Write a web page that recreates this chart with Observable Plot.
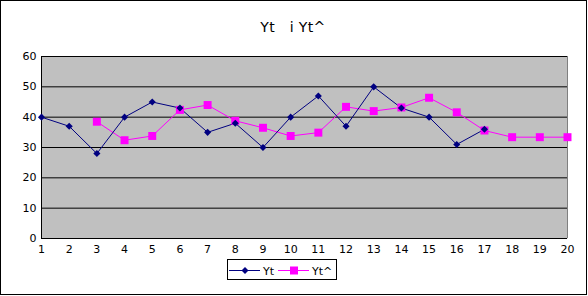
<!DOCTYPE html>
<html>
<head>
<meta charset="utf-8">
<script src="https://cdn.jsdelivr.net/npm/d3@7"></script>
<script src="https://cdn.jsdelivr.net/npm/@observablehq/plot@0.6"></script>
<style>
  html, body { margin: 0; padding: 0; background: #fff; }
  #wrap { position: relative; width: 588px; height: 296px; font-family: "DejaVu Sans", sans-serif; }
  #wrap > svg { position: absolute; left: 0; top: 0; }
  #border { position: absolute; left: 0; top: 0; width: 587px; height: 295px; box-sizing: border-box; border: 1px solid #000; pointer-events: none; }
</style>
</head>
<body>
<div id="wrap"><div id="border"></div></div>
<script>
const title = "Yt   i Yt^";
const periods = d3.range(1, 21);
const yTicks = [0, 10, 20, 30, 40, 50, 60];
const ytPeriods = [1, 2, 3, 4, 5, 6, 7, 8, 9, 10, 11, 12, 13, 14, 15, 16, 17];
const ytValues = [40, 37, 28, 40, 45, 43, 35, 38, 30, 40, 47, 37, 50, 43, 40, 31, 36];
const yhatPeriods = [3, 4, 5, 6, 7, 8, 9, 10, 11, 12, 13, 14, 15, 16, 17, 18, 19, 20];
const yhatValues = [38.5, 32.4, 33.8, 42.4, 44.0, 38.8, 36.5, 33.8, 34.9, 43.4, 42.0, 43.2, 46.4, 41.6, 35.6, 33.4, 33.4, 33.4];
const seriesNames = ["Yt", "Yt^"];
const colors = ["#000080", "#ff00ff"];

const yt = ytPeriods.map((p, i) => ({x: p, y: ytValues[i]}));
const yhat = yhatPeriods.map((p, i) => ({x: p, y: yhatValues[i]}));

const chart = Plot.plot({
  width: 588,
  height: 296,
  marginLeft: 41,
  marginRight: 21,
  marginTop: 56,
  marginBottom: 58,
  style: {fontFamily: "DejaVu Sans, sans-serif", fontSize: "11px", color: "#000", background: "transparent"},
  x: {type: "linear", domain: [1, 20]},
  y: {domain: [0, 60]},
  marks: [
    Plot.frame({fill: "#c0c0c0", stroke: null}),
    Plot.ruleY(yTicks, {stroke: "#000", strokeWidth: 1}),
    Plot.ruleX([20], {stroke: "#808080", strokeWidth: 1}),
    Plot.ruleX([1], {stroke: "#000", strokeWidth: 1}),
    Plot.axisY(yTicks, {tickSize: 0, tickPadding: 5, fontSize: 11, label: null}),
    Plot.axisX(periods, {tickSize: 0, tickPadding: 7, fontSize: 11, label: null, tickFormat: d => String(d)}),
    Plot.line(yhat, {x: "x", y: "y", stroke: colors[1], strokeWidth: 1}),
    Plot.line(yt, {x: "x", y: "y", stroke: colors[0], strokeWidth: 1}),
    Plot.dot(yhat, {x: "x", y: "y", symbol: "square", r: 4.5, fill: colors[1], stroke: null}),
    Plot.dot(yt, {x: "x", y: "y", symbol: "diamond2", r: 3.2, fill: colors[0], stroke: null})
  ]
});
const wrap = document.getElementById("wrap");
wrap.insertBefore(chart, wrap.firstChild);

// Title and legend overlay
const ov = d3.select(wrap).append("svg")
  .attr("width", 588).attr("height", 296)
  .style("position", "absolute").style("left", 0).style("top", 0)
  .style("font-family", "DejaVu Sans, sans-serif");
ov.append("text").attr("x", 293).attr("y", 31.5).attr("text-anchor", "middle")
  .attr("font-size", 14).attr("letter-spacing", 0.4).attr("fill", "#000")
  .style("white-space", "pre").attr("xml:space", "preserve").text(title);

const lg = ov.append("g");
lg.append("rect").attr("x", 227.5).attr("y", 259.5).attr("width", 109).attr("height", 20)
  .attr("fill", "#fff").attr("stroke", "#000");
const entries = [
  {x0: 229, sym: "diamond"},
  {x0: 278, sym: "square"}
];
entries.forEach((e, i) => {
  lg.append("line").attr("x1", e.x0).attr("x2", e.x0 + 31).attr("y1", 270.5).attr("y2", 270.5)
    .attr("stroke", colors[i]).attr("stroke-width", 1);
  const cx = e.x0 + 16, cy = 270.5;
  if (e.sym === "square") {
    lg.append("rect").attr("x", cx - 4).attr("y", cy - 4).attr("width", 8).attr("height", 8).attr("fill", colors[i]);
  } else {
    lg.append("path").attr("d", `M${cx},${cy - 3.5}L${cx + 3.5},${cy}L${cx},${cy + 3.5}L${cx - 3.5},${cy}Z`).attr("fill", colors[i]);
  }
  lg.append("text").attr("x", e.x0 + 34).attr("y", 274.5).attr("font-size", 11).attr("fill", "#000").text(seriesNames[i]);
});
</script>
</body>
</html>
